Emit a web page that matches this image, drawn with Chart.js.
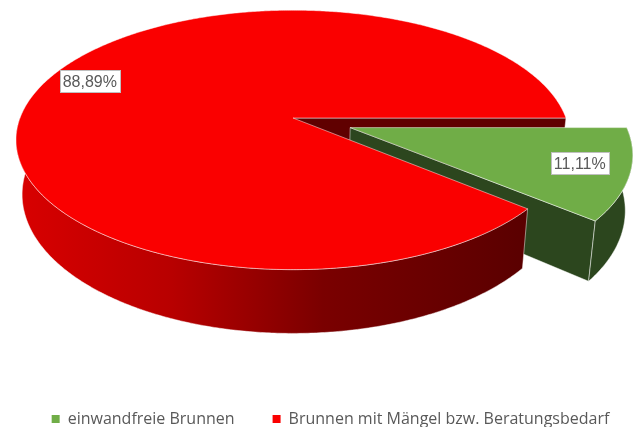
<!DOCTYPE html>
<html><head><meta charset="utf-8">
<script src="https://cdn.jsdelivr.net/npm/chart.js@4.4.1/dist/chart.umd.min.js"></script>
<style>html,body{margin:0;padding:0;background:#fff}#wrap{width:637px;height:427px;position:relative}</style>
</head><body><div id="wrap"><canvas id="c"></canvas></div>
<script>
// ---- data ----
const categories = ['einwandfreie Brunnen', 'Brunnen mit Mängel bzw. Beratungsbedarf'];
const shares = [11.11, 88.89];
const topColors = ['#70AD47', '#FA0000'];
const explodeBy = [22, 0];   // offset in px of a 100px reference radius

// ---- 3D look (layout / style) ----
const GEOM = {cx: 293, cy: 118, rx: 273, ry: 126, persp: 0.169, depth: 53, bottomScale: 0.978, labelR: 0.83, labelDy: -3};
const LABEL_FONT = '"Liberation Sans", Arial, sans-serif';
const LEGEND_FONT = '"Open Sans", sans-serif';

function fmt(v){ return v.toFixed(2).replace('.', ',') + '%'; }

const pie3d = {
  id: 'pie3d',
  beforeDatasetsDraw(chart) {
    const ctx = chart.ctx, g = GEOM;
    const meta = chart.getDatasetMeta(0);
    const P = (u, v, z) => {
      const s = 1 / (1 - g.persp * v);
      const kx = 1 - (1 - g.bottomScale) * z;
      return [g.cx + g.rx * u * s * kx, g.cy + (g.ry * v + g.depth * z) * s];
    };
    const slices = meta.data.map((arc, i) => {
      const a1 = arc.startAngle, a2 = arc.endAngle, mid = (a1 + a2) / 2;
      const off = (arc.options.offset || 0) / arc.outerRadius;
      return {i, a1, a2, mid, du: Math.cos(mid) * off, dv: Math.sin(mid) * off};
    });
    const rim = (s, a, z) => P(s.du + Math.cos(a), s.dv + Math.sin(a), z);
    const apex = (s, z) => P(s.du, s.dv, z);
    const arcPts = (s, a1, a2, z) => {
      const n = Math.max(2, Math.ceil(Math.abs(a2 - a1) / (Math.PI / 360)));
      const pts = [];
      for (let k = 0; k <= n; k++) pts.push(rim(s, a1 + (a2 - a1) * k / n, z));
      return pts;
    };
    const poly = (pts, fill) => {
      ctx.beginPath();
      pts.forEach((p, k) => k ? ctx.lineTo(p[0], p[1]) : ctx.moveTo(p[0], p[1]));
      ctx.closePath();
      ctx.fillStyle = fill; ctx.fill();
      ctx.strokeStyle = 'rgba(255,255,255,0.6)'; ctx.lineWidth = 0.8; ctx.stroke();
    };
    const sideFill = (i) => {
      if (i === 1) {
        const gr = ctx.createLinearGradient(g.cx - g.rx, 0, g.cx + g.rx * 0.85, 0);
        gr.addColorStop(0, '#D80000');
        gr.addColorStop(0.3, '#B80000');
        gr.addColorStop(0.6, '#7A0000');
        gr.addColorStop(1, '#5A0000');
        return gr;
      }
      return '#2C461E';
    };
    const cutFill = (i) => i === 1 ? '#600000' : '#2C461E';

    ctx.save();
    const cuts = [];
    slices.forEach(s => {
      if (-Math.cos(s.a1) > 0) cuts.push({s, a: s.a1, v: s.dv});
      if (Math.cos(s.a2) > 0) cuts.push({s, a: s.a2, v: s.dv});
    });
    cuts.sort((p, q) => p.v - q.v).forEach(c => {
      poly([apex(c.s, 0), rim(c.s, c.a, 0), rim(c.s, c.a, 1), apex(c.s, 1)], cutFill(c.s.i));
    });
    slices.forEach(s => {
      const b1 = Math.max(s.a1, 0), b2 = Math.min(s.a2, Math.PI);
      if (b2 > b1) {
        const topE = arcPts(s, b1, b2, 0), botE = arcPts(s, b1, b2, 1).reverse();
        poly(topE.concat(botE), sideFill(s.i));
      }
    });
    slices.forEach(s => {
      poly([apex(s, 0)].concat(arcPts(s, s.a1, s.a2, 0)), topColors[s.i]);
    });
    ctx.font = '16px ' + LABEL_FONT;
    ctx.textAlign = 'center'; ctx.textBaseline = 'middle';
    slices.forEach(s => {
      const r = g.labelR;
      let [x, y] = P(s.du + Math.cos(s.mid) * r, s.dv + Math.sin(s.mid) * r, 0);
      y += g.labelDy;
      const t = fmt(shares[s.i]);
      const w = Math.round(ctx.measureText(t).width + 6), h = 22;
      const bx = Math.round(x - w / 2), by = Math.round(y - h / 2);
      ctx.fillStyle = '#fff'; ctx.fillRect(bx, by, w, h);
      ctx.strokeStyle = '#BFBFBF'; ctx.lineWidth = 1;
      ctx.strokeRect(bx + 0.5, by + 0.5, w, h);
      ctx.fillStyle = '#595959'; ctx.fillText(t, x, y + 1.5);
    });
    ctx.restore();
    return false;
  }
};

new Chart(document.getElementById('c'), {
  type: 'pie',
  data: {
    labels: categories,
    datasets: [{data: shares, backgroundColor: topColors, borderWidth: 0, offset: explodeBy}]
  },
  options: {
    responsive: true, maintainAspectRatio: false, animation: false,
    rotation: 90,
    radius: 100,
    layout: {padding: {bottom: -10, left: 10, right: -14}},
    plugins: {
      tooltip: {enabled: false},
      legend: {
        position: 'bottom',
        labels: {boxWidth: 8, boxHeight: 8, padding: 38, color: '#595959', font: {size: 16, family: LEGEND_FONT}}
      }
    }
  },
  plugins: [pie3d]
});
</script></body></html>
